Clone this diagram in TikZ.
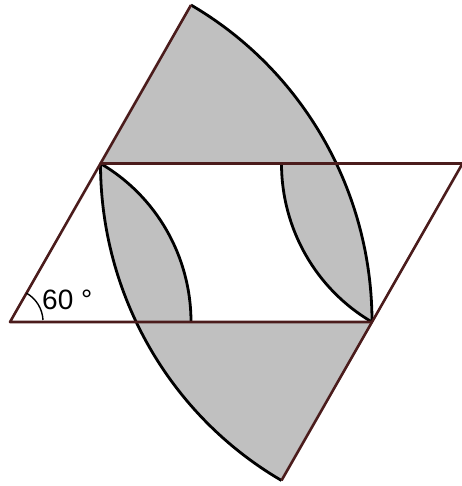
\documentclass[tikz,border=0pt]{standalone}
\usepackage{fontspec}
\setmainfont{Liberation Sans}
\definecolor{maroonline}{RGB}{75,28,28}
\definecolor{regiongray}{RGB}{192,192,192}
\begin{document}
\begin{tikzpicture}[x=181pt,y=183pt,
  edge/.style={draw=maroonline, line width=2.6pt, line join=round},
  arcline/.style={draw=black, line width=2.8pt},
  anglemark/.style={draw=black, line width=1.4pt}]
\useasboundingbox (-10pt,-164pt) rectangle (451pt,322pt);
\coordinate (B) at (0,0);
\coordinate (C) at (2,0);
\coordinate (A) at (0.5,0.8660);
\coordinate (D) at (2.5,0.8660);
\coordinate (E) at (1,1.7321);
\coordinate (F) at (1.5,-0.8660);
\coordinate (G) at (1,0);
\coordinate (H) at (1.5,0.8660);
\fill[fill=regiongray, even odd rule]
  (B) -- (C) arc[start angle=0,end angle=60,radius=2] -- cycle
  (B) -- (G) arc[start angle=0,end angle=60,radius=1] -- cycle
  (D) -- (A) arc[start angle=180,end angle=240,radius=2] -- cycle
  (D) -- (H) arc[start angle=180,end angle=240,radius=1] -- cycle;
\draw[arcline] (C) arc[start angle=0,end angle=60,radius=2];
\draw[arcline] (G) arc[start angle=0,end angle=60,radius=1];
\draw[arcline] (A) arc[start angle=180,end angle=240,radius=2];
\draw[arcline] (H) arc[start angle=180,end angle=240,radius=1];
\draw[edge] (B) -- (C) -- (D) -- (A) -- cycle;
\draw[edge] (A) -- (E);
\draw[edge] (C) -- (F);
\draw[anglemark] (B) ++(33pt,2pt) arc[start angle=3,end angle=60,radius=33pt];
\node[anchor=base west, inner sep=0pt, font=\fontsize{28}{30}\selectfont] (lbl) at ([shift={(32pt,12pt)}]B) {60 °};
\end{tikzpicture}
\end{document}
